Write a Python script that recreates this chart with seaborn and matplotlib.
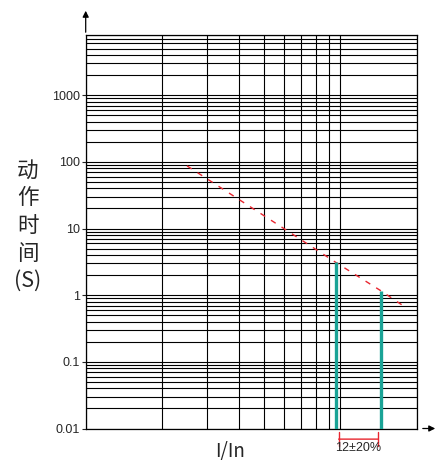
import numpy as np
import matplotlib
matplotlib.use('Agg')
import matplotlib.pyplot as plt
import matplotlib.ticker as mticker
import pandas as pd
import seaborn as sns

# tripping curve (I/In vs time in s)
curve_x = [2.5, 6.0, 9.6, 14.4, 17.4]
curve_t = [87, 10, 3.1, 1.17, 0.72]

# instantaneous trip band 12 +/- 20%
band_x = [9.6, 14.4]
band_t = [3.1, 1.17]

y_ticks = [0.01, 0.1, 1, 10, 100, 1000]
y_ticklabels = ['0.01', '0.1', '1', '10', '100', '1000']
ylabel_chars = ['动', '作', '时', '间', '(S)']
band_label = '12±20%'

sns.set_style('white')
plt.rcParams['font.family'] = ['Liberation Sans', 'DejaVu Sans']

fig = plt.figure(figsize=(4.45, 4.66), dpi=100)
ax = fig.add_axes([85.7 / 445, 1 - 428.5 / 466, (417 - 85.7) / 445, (428.5 - 35) / 466])

ax.set_xscale('log')
ax.set_yscale('log')
ax.set_xlim(1, 20)
ax.set_ylim(0.01, 8000)

ax.xaxis.set_major_locator(mticker.FixedLocator([1, 10]))
ax.xaxis.set_minor_locator(mticker.LogLocator(base=10, subs=np.arange(2, 10)))
ax.yaxis.set_major_locator(mticker.FixedLocator(y_ticks))
ax.yaxis.set_minor_locator(mticker.LogLocator(base=10, subs=np.arange(2, 10), numticks=20))
ax.set_yticks(y_ticks)
ax.set_yticklabels(y_ticklabels)
ax.xaxis.set_major_formatter(mticker.NullFormatter())
ax.xaxis.set_minor_formatter(mticker.NullFormatter())
ax.yaxis.set_minor_formatter(mticker.NullFormatter())

ax.grid(which='both', color='black', linewidth=0.8)
ax.tick_params(axis='y', which='major', length=3, width=0.8, pad=1, labelsize=9, left=True)
ax.tick_params(axis='y', which='minor', length=0)
ax.tick_params(axis='x', which='both', length=0)
for s in ax.spines.values():
    s.set_color('black')
    s.set_linewidth(0.9)

df = pd.DataFrame({'I': curve_x, 't': curve_t})
sns.lineplot(data=df, x='I', y='t', ax=ax, color='#e8262f', linewidth=1.0,
             dashes=False, linestyle=(0, (4, 5)))
ax.set_xlabel('')
ax.set_ylabel('')

ax.vlines(band_x, 0.01, band_t, colors='#1aa396', linewidth=2.4, zorder=5)

# axis arrows
fig.add_artist(matplotlib.patches.FancyArrowPatch(
    (85.7 / 445, 1 - 35 / 466), (85.7 / 445, 1 - 8 / 466), transform=fig.transFigure,
    arrowstyle='-|>', mutation_scale=9, color='black', lw=0.9))
fig.add_artist(matplotlib.patches.FancyArrowPatch(
    (420 / 445, 1 - 428.5 / 466), (438 / 445, 1 - 428.5 / 466), transform=fig.transFigure,
    arrowstyle='-|>', mutation_scale=9, color='black', lw=0.9))

# band bracket under the axis
ax.annotate('', xy=(band_x[0], -0.027), xytext=(band_x[1], -0.027),
            xycoords=('data', 'axes fraction'),
            arrowprops=dict(arrowstyle='|-|', color='#e8262f', lw=1.0, mutation_scale=5))
ax.text(np.sqrt(band_x[0] * band_x[1]), -0.05, band_label, transform=ax.get_xaxis_transform(),
        ha='center', va='center', fontsize=9)

fig.text(230 / 445, 1 - 452 / 466, 'I/In', ha='center', va='center', fontsize=13.5,
         family=['Noto Sans CJK SC', 'DejaVu Sans'])

for i, ch in enumerate(ylabel_chars):
    fig.text(28 / 445, 1 - (171 + i * 27.5) / 466, ch, ha='center', va='center', fontsize=15.5,
             family=['Noto Sans CJK SC', 'DejaVu Sans'])

fig.savefig('out.png', dpi=100)
